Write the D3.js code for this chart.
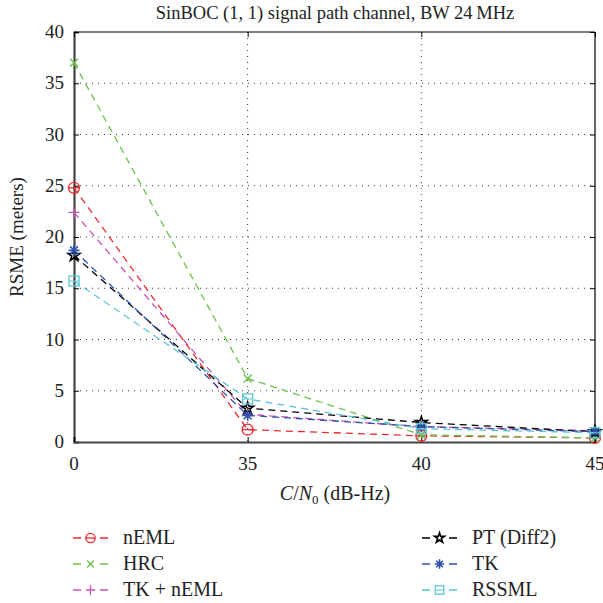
<!DOCTYPE html>
<html>
<head>
<meta charset="utf-8">
<script src="https://cdn.jsdelivr.net/npm/d3@7"></script>
<style>
  body { margin: 0; background: #fff; }
  svg { font-family: "Liberation Serif", "DejaVu Serif", serif; }
</style>
</head>
<body>
<div id="chart"></div>
<script>
// x categories (C/N0 in dB-Hz), shown evenly spaced
var snrLabels = ["0", "35", "40", "45"];
var yTicks = [0, 5, 10, 15, 20, 25, 30, 35, 40];

// RSME values in meters
var nEML    = [24.8, 1.2, 0.6, 0.4];
var HRC     = [37.0, 6.2, 0.7, 0.4];
var TKnEML  = [22.4, 2.7, 1.5, 1.1];
var PTDiff2 = [18.2, 3.3, 1.9, 1.0];
var TK      = [18.7, 2.6, 1.5, 1.0];
var RSSML   = [15.7, 4.2, 1.3, 0.9];

var series = [
  {name: "nEML",        values: nEML,    color: "#ea2a2f", marker: "circle"},
  {name: "HRC",         values: HRC,     color: "#6cc04a", marker: "x"},
  {name: "TK + nEML",   values: TKnEML,  color: "#c752b8", marker: "plus"},
  {name: "PT (Diff2)",  values: PTDiff2, color: "#000000", marker: "star"},
  {name: "TK",          values: TK,      color: "#2f51a9", marker: "asterisk"},
  {name: "RSSML",       values: RSSML,   color: "#5cc6d6", marker: "square"}
];

var W = 603, H = 603;
var pLeft = 74, pRight = 595, pTop = 32, pBottom = 442;

var svg = d3.select("#chart").append("svg")
  .attr("width", W).attr("height", H);

var x = d3.scalePoint().domain(snrLabels).range([pLeft, pRight]);
var y = d3.scaleLinear().domain([0, 40]).range([pBottom, pTop]);

// grid (dotted)
var grid = svg.append("g");
grid.selectAll("line.h").data(yTicks.slice(1, -1)).enter().append("line")
  .attr("x1", pLeft).attr("x2", pRight)
  .attr("y1", function(d) { return y(d); }).attr("y2", function(d) { return y(d); })
  .attr("stroke", "#333").attr("stroke-width", 1).attr("stroke-dasharray", "1,5");
grid.selectAll("line.v").data(snrLabels.slice(1, -1)).enter().append("line")
  .attr("y1", pTop).attr("y2", pBottom)
  .attr("x1", function(d) { return x(d); }).attr("x2", function(d) { return x(d); })
  .attr("stroke", "#333").attr("stroke-width", 1).attr("stroke-dasharray", "1,5");

// box, top and right thin
svg.append("line").attr("x1", pLeft).attr("x2", pRight).attr("y1", pTop).attr("y2", pTop)
  .attr("stroke", "#000").attr("stroke-width", 1.2);
svg.append("line").attr("x1", pRight).attr("x2", pRight).attr("y1", pTop).attr("y2", pBottom)
  .attr("stroke", "#000").attr("stroke-width", 1.2);

// axes with inward ticks
var noLabel = function() { return ""; };
var yAxis = svg.append("g").attr("transform", "translate(" + pLeft + ",0)")
  .call(d3.axisRight(y).tickValues(yTicks).tickSize(5).tickFormat(noLabel));
var xAxis = svg.append("g").attr("transform", "translate(0," + pBottom + ")")
  .call(d3.axisTop(x).tickSize(5).tickFormat(noLabel));
svg.append("g").attr("transform", "translate(0," + pTop + ")")
  .call(d3.axisBottom(x).tickSize(5).tickFormat(noLabel))
  .select(".domain").remove();
svg.append("g").attr("transform", "translate(" + pRight + ",0)")
  .call(d3.axisLeft(y).tickValues(yTicks).tickSize(5).tickFormat(noLabel))
  .select(".domain").remove();
[yAxis, xAxis].forEach(function(a) {
  a.select(".domain").attr("stroke", "#444").attr("stroke-width", 2.2);
});

// tick labels
svg.append("g").selectAll("text").data(yTicks).enter().append("text")
  .attr("x", pLeft - 10).attr("y", function(d) { return y(d) + 6; })
  .attr("text-anchor", "end").attr("font-size", 19).attr("fill", "#222")
  .text(function(d) { return d; });
svg.append("g").selectAll("text").data(snrLabels).enter().append("text")
  .attr("x", function(d) { return x(d); }).attr("y", pBottom + 28)
  .attr("text-anchor", "middle").attr("font-size", 19).attr("fill", "#222")
  .text(function(d) { return d; });

// title and axis labels
svg.append("text").attr("x", 335).attr("y", 19).attr("text-anchor", "middle")
  .attr("font-size", 18.5).attr("fill", "#222")
  .text("SinBOC (1, 1) signal path channel, BW 24\u2009MHz");
svg.append("text").attr("transform", "translate(23,237) rotate(-90)")
  .attr("text-anchor", "middle").attr("font-size", 19).attr("fill", "#222")
  .text("RSME (meters)");
var xl = svg.append("text").attr("x", 335).attr("y", 500).attr("text-anchor", "middle")
  .attr("font-size", 20).attr("fill", "#222");
xl.append("tspan").attr("font-style", "italic").text("C");
xl.append("tspan").text("/");
xl.append("tspan").attr("font-style", "italic").text("N");
xl.append("tspan").attr("font-size", 13).attr("dy", 4).text("0");
xl.append("tspan").attr("dy", -4).text(" (dB-Hz)");

// markers
function drawMarker(g, type, color, cx, cy, k) {
  k = k || 1;
  var s = 5.5 * k;
  if (type === "circle") {
    g.append("circle").attr("cx", cx).attr("cy", cy).attr("r", s)
      .attr("fill", "none").attr("stroke", color).attr("stroke-width", 1.3);
    g.append("line").attr("x1", cx - s).attr("x2", cx + s).attr("y1", cy).attr("y2", cy)
      .attr("stroke", color).attr("stroke-width", 1.3);
  } else if (type === "x") {
    var d = 4 * k;
    g.append("path").attr("d", "M" + (cx - d) + "," + (cy - d) + "L" + (cx + d) + "," + (cy + d) +
      "M" + (cx - d) + "," + (cy + d) + "L" + (cx + d) + "," + (cy - d))
      .attr("stroke", color).attr("stroke-width", 1.4);
  } else if (type === "plus") {
    g.append("path").attr("d", "M" + (cx - s) + "," + cy + "L" + (cx + s) + "," + cy +
      "M" + cx + "," + (cy - s) + "L" + cx + "," + (cy + s))
      .attr("stroke", color).attr("stroke-width", 1.3);
  } else if (type === "star") {
    g.append("path").attr("transform", "translate(" + cx + "," + cy + ")")
      .attr("d", d3.symbol(d3.symbolStar, 42 * k * k)())
      .attr("fill", "none").attr("stroke", color).attr("stroke-width", 1.6);
  } else if (type === "asterisk") {
    var p = "";
    for (var i = 0; i < 4; i++) {
      var a = i * Math.PI / 4;
      p += "M" + (cx - s * Math.cos(a)) + "," + (cy - s * Math.sin(a)) +
           "L" + (cx + s * Math.cos(a)) + "," + (cy + s * Math.sin(a));
    }
    g.append("path").attr("d", p).attr("stroke", color).attr("stroke-width", 1.6);
  } else if (type === "square") {
    var q = 5 * k;
    g.append("rect").attr("x", cx - q).attr("y", cy - q).attr("width", 2 * q).attr("height", 2 * q)
      .attr("fill", "none").attr("stroke", color).attr("stroke-width", 1.3);
    g.append("line").attr("x1", cx - q).attr("x2", cx + q).attr("y1", cy).attr("y2", cy)
      .attr("stroke", color).attr("stroke-width", 1.1);
  }
}

var line = d3.line()
  .x(function(d, i) { return x(snrLabels[i]); })
  .y(function(d) { return y(d); });

series.forEach(function(s) {
  var g = svg.append("g");
  g.append("path").attr("d", line(s.values))
    .attr("fill", "none").attr("stroke", s.color).attr("stroke-width", 1.3)
    .attr("stroke-dasharray", "7,5");
  s.values.forEach(function(v, i) {
    drawMarker(g, s.marker, s.color, x(snrLabels[i]), y(v));
  });
});

// legend in two columns
var legendRows = [538, 564, 590];
series.forEach(function(s, i) {
  var col = Math.floor(i / 3), row = i % 3;
  var lx = col === 0 ? 73 : 422;
  var ly = legendRows[row];
  var g = svg.append("g");
  g.append("line").attr("x1", lx).attr("x2", lx + 35).attr("y1", ly).attr("y2", ly)
    .attr("stroke", s.color).attr("stroke-width", 1.4).attr("stroke-dasharray", "8,19");
  drawMarker(g, s.marker, s.color, lx + 17.5, ly, 0.85);
  g.append("text").attr("x", lx + 50).attr("y", ly + 6).attr("font-size", 20).attr("fill", "#222")
    .text(s.name);
});
</script>
</body>
</html>
